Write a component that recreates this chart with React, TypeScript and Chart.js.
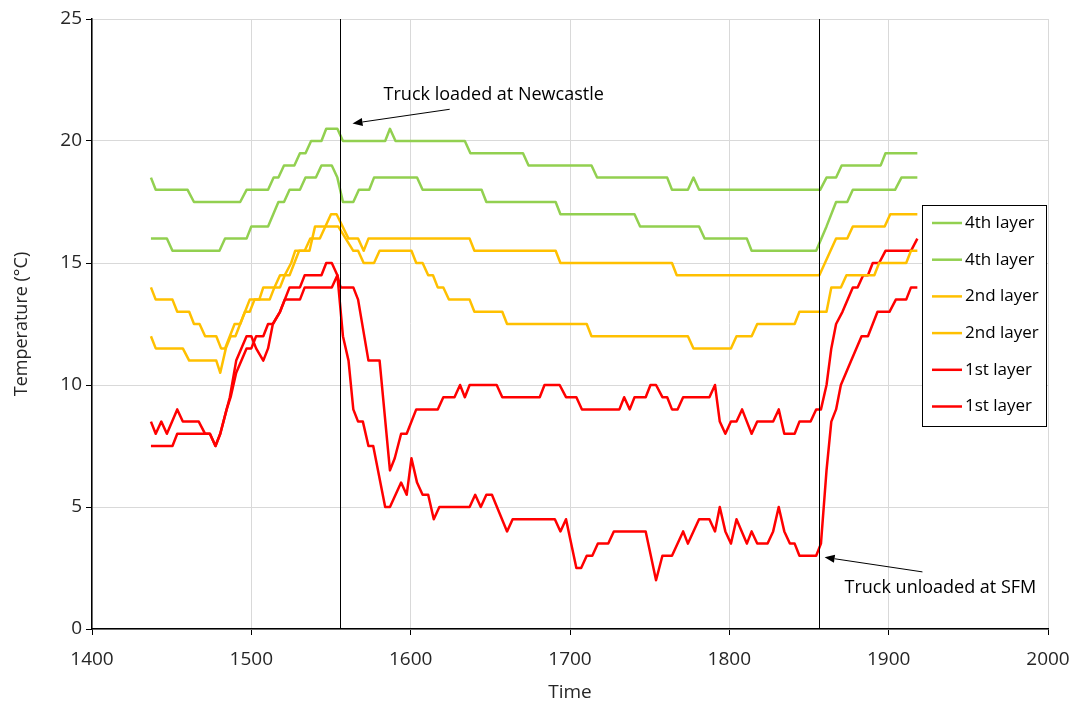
import React, { useEffect, useRef } from 'react';
import { Chart, registerables } from 'chart.js';

Chart.register(...registerables);

// ---------- data ----------
const xTickValues = [1400, 1500, 1600, 1700, 1800, 1900, 2000];
const yTickValues = [0, 5, 10, 15, 20, 25];

const seriesLabels = ['4th layer', '4th layer', '2nd layer', '2nd layer', '1st layer', '1st layer'];
const seriesColors = ['#92D050', '#92D050', '#FFC000', '#FFC000', '#FF0000', '#FF0000'];

// [time, temperature] vertices
const green1: number[][] = [
  [1437, 18.5], [1440, 18], [1460, 18], [1464, 17.5], [1493, 17.5], [1497, 18], [1510.5, 18], [1514, 18.5],
  [1517, 18.5], [1520.5, 19], [1527, 19], [1530.5, 19.5], [1534, 19.5], [1537.5, 20], [1544, 20], [1547, 20.5],
  [1554, 20.5], [1557.5, 20], [1584, 20], [1587, 20.5], [1590.5, 20], [1634, 20], [1637.5, 19.5], [1670.5, 19.5],
  [1674, 19], [1713.5, 19], [1717, 18.5], [1761, 18.5], [1764, 18], [1774, 18], [1777.5, 18.5], [1781, 18],
  [1857, 18], [1861, 18.5], [1867, 18.5], [1870.5, 19], [1895, 19], [1898, 19.5], [1918, 19.5],
];

const green2: number[][] = [
  [1437, 16], [1447, 16], [1450.5, 15.5], [1480, 15.5], [1483.5, 16], [1497, 16], [1500, 16.5], [1510.5, 16.5],
  [1517, 17.5], [1520.5, 17.5], [1524, 18], [1530.5, 18], [1534, 18.5], [1540.5, 18.5], [1544, 19], [1550.5, 19],
  [1554, 18.5], [1557.5, 17.5], [1564, 17.5], [1567.5, 18], [1574, 18], [1577, 18.5], [1604, 18.5], [1607.5, 18],
  [1644.5, 18], [1647.5, 17.5], [1691, 17.5], [1694, 17], [1740.5, 17], [1744, 16.5], [1781, 16.5], [1784.5, 16],
  [1811, 16], [1814, 15.5], [1854.5, 15.5], [1861, 16.5], [1867, 17.5], [1874, 17.5], [1877.5, 18], [1904, 18],
  [1908, 18.5], [1918, 18.5],
];

const yellow1: number[][] = [
  [1437, 14], [1440, 13.5], [1450.5, 13.5], [1453.5, 13], [1461, 13], [1464, 12.5], [1467.5, 12.5], [1471, 12],
  [1478, 12], [1481, 11.5], [1483.5, 11.5], [1489.5, 12.5], [1493, 12.5], [1499, 13.5], [1505, 13.5], [1507.5, 14],
  [1514.5, 14], [1518, 14.5], [1521, 14.5], [1525, 15], [1527.5, 15.5], [1533.5, 15.5], [1537, 16], [1543, 16],
  [1550, 17], [1553.5, 17], [1561, 16], [1567, 16], [1570.5, 15.5], [1573.5, 16], [1637, 16], [1640, 15.5],
  [1691, 15.5], [1694, 15], [1764, 15], [1767, 14.5], [1856.5, 14.5], [1867, 16], [1874, 16], [1877.5, 16.5],
  [1897.5, 16.5], [1901, 17], [1918, 17],
];

const yellow2: number[][] = [
  [1437, 12], [1440, 11.5], [1457, 11.5], [1461, 11], [1478, 11], [1480.5, 10.5], [1484, 11.5], [1487, 12],
  [1490, 12], [1493, 12.5], [1496, 13], [1499, 13], [1502, 13.5], [1511.5, 13.5], [1514.5, 14], [1518, 14],
  [1521, 14.5], [1524, 14.5], [1527, 15], [1530, 15.5], [1536.5, 15.5], [1540, 16.5], [1554.5, 16.5], [1564, 15.5],
  [1567, 15.5], [1570.5, 15], [1577, 15], [1580.5, 15.5], [1600.5, 15.5], [1603.5, 15], [1607.5, 15], [1611, 14.5],
  [1614, 14.5], [1617, 14], [1620.5, 14], [1624, 13.5], [1637, 13.5], [1640, 13], [1657.5, 13], [1660.5, 12.5],
  [1710.5, 12.5], [1713.5, 12], [1774, 12], [1777.5, 11.5], [1801, 11.5], [1804.5, 12], [1814, 12], [1817.5, 12.5],
  [1841, 12.5], [1844, 13], [1861, 13], [1864, 14], [1870, 14], [1873.5, 14.5], [1891, 14.5], [1894, 15],
  [1911, 15], [1914, 15.5], [1918, 15.5],
];

const red1: number[][] = [
  [1437, 8.5], [1440, 8], [1443.5, 8.5], [1447, 8], [1453.5, 9], [1457, 8.5], [1467, 8.5], [1471, 8], [1474, 8],
  [1477.5, 7.5], [1480.5, 8], [1484.5, 9], [1486.5, 9.5], [1490.5, 11], [1497, 12], [1500, 12], [1503, 11.5],
  [1507.5, 11], [1510.5, 11.5], [1513.5, 12.5], [1518, 13], [1524, 14], [1530.5, 14], [1533.5, 14.5], [1544, 14.5],
  [1547, 15], [1550.5, 15], [1554, 14.5], [1556, 14], [1564, 14], [1567, 13.5], [1573.5, 11], [1580.5, 11],
  [1587, 6.5], [1590, 7], [1594, 8], [1597.5, 8], [1603.5, 9], [1617, 9], [1620.5, 9.5], [1627.5, 9.5], [1631, 10],
  [1634, 9.5], [1637, 10], [1654, 10], [1657.5, 9.5], [1681, 9.5], [1684, 10], [1693.5, 10], [1697.5, 9.5],
  [1704, 9.5], [1707.5, 9], [1731, 9], [1734, 9.5], [1737.5, 9], [1740.5, 9.5], [1747.5, 9.5], [1750.5, 10],
  [1754, 10], [1758, 9.5], [1761, 9.5], [1764, 9], [1767.5, 9], [1771, 9.5], [1787.5, 9.5], [1791, 10], [1794, 8.5],
  [1797.5, 8], [1801, 8.5], [1804.5, 8.5], [1808, 9], [1811, 8.5], [1814, 8], [1817.5, 8.5], [1827.5, 8.5],
  [1831, 9], [1834.5, 8], [1841, 8], [1844, 8.5], [1851, 8.5], [1854.5, 9], [1857.5, 9], [1861, 10], [1864, 11.5],
  [1867, 12.5], [1871, 13], [1877.5, 14], [1880.5, 14], [1884, 14.5], [1887, 14.5], [1890, 15], [1894, 15],
  [1898, 15.5], [1914, 15.5], [1918, 16],
];

const red2: number[][] = [
  [1437, 7.5], [1450.5, 7.5], [1453.5, 8], [1474, 8], [1477.5, 7.5], [1480.5, 8], [1484.5, 9], [1487, 9.5],
  [1490.5, 10.5], [1497, 11.5], [1500, 11.5], [1503, 12], [1507.5, 12], [1510.5, 12.5], [1513.5, 12.5], [1518, 13],
  [1521, 13.5], [1530.5, 13.5], [1533.5, 14], [1550.5, 14], [1554, 14.5], [1557.5, 12], [1561, 11], [1564, 9],
  [1567, 8.5], [1570, 8.5], [1573.5, 7.5], [1576.5, 7.5], [1584, 5], [1587, 5], [1594, 6], [1597.5, 5.5],
  [1600.5, 7], [1604, 6], [1607.5, 5.5], [1611, 5.5], [1614.5, 4.5], [1618, 5], [1637, 5], [1640.5, 5.5],
  [1644, 5], [1647.5, 5.5], [1651, 5.5], [1660.5, 4], [1664, 4.5], [1690.5, 4.5], [1694, 4], [1697.5, 4.5],
  [1704, 2.5], [1707, 2.5], [1710.5, 3], [1714, 3], [1717.5, 3.5], [1724, 3.5], [1727.5, 4], [1747.5, 4],
  [1754, 2], [1758, 3], [1764, 3], [1771, 4], [1774, 3.5], [1781, 4.5], [1787.5, 4.5], [1791, 4], [1794, 5],
  [1797.5, 4], [1801, 3.5], [1804.5, 4.5], [1811, 3.5], [1814, 4], [1817.5, 3.5], [1824, 3.5], [1827.5, 4],
  [1831, 5], [1834.5, 4], [1838, 3.5], [1841, 3.5], [1844, 3], [1854.5, 3], [1857.5, 3.5], [1861, 6.5],
  [1864, 8.5], [1867, 9], [1870, 10], [1876.5, 11], [1883, 12], [1887, 12], [1893, 13], [1900.5, 13],
  [1904.5, 13.5], [1911, 13.5], [1914, 14], [1918, 14],
];

const seriesPoints = [green1, green2, yellow1, yellow2, red1, red2];

// event markers (time) and annotations (data coordinates)
const eventTimes = [1555.5, 1856.5];
const annotationTexts = ['Truck loaded at Newcastle', 'Truck unloaded at SFM'];
const annotationTextAt = [[1583, 21.9], [1872.3, 1.7]];
const arrowFrom = [[1624.5, 21.3], [1921.2, 2.34]];
const arrowTo = [[1563.5, 20.72], [1859.8, 2.94]];

const FONT = "'Open Sans', 'Liberation Sans', sans-serif";
const TEXT_COLOR = '#262626';

function drawArrow(ctx: CanvasRenderingContext2D, x1: number, y1: number, x2: number, y2: number) {
  const ang = Math.atan2(y2 - y1, x2 - x1);
  const len = 10;
  const half = 4;
  const bx = x2 - Math.cos(ang) * len;
  const by = y2 - Math.sin(ang) * len;
  ctx.beginPath();
  ctx.moveTo(x1, y1);
  ctx.lineTo(bx, by);
  ctx.stroke();
  ctx.beginPath();
  ctx.moveTo(x2, y2);
  ctx.lineTo(bx + Math.sin(ang) * half, by - Math.cos(ang) * half);
  ctx.lineTo(bx - Math.sin(ang) * half, by + Math.cos(ang) * half);
  ctx.closePath();
  ctx.fill();
}

const annotationPlugin = {
  id: 'annotations',
  afterDatasetsDraw(chart: any) {
    const { ctx } = chart;
    const xs = chart.scales.x;
    const ys = chart.scales.y;
    ctx.save();
    ctx.strokeStyle = '#000';
    ctx.fillStyle = '#000';
    ctx.lineWidth = 1;
    eventTimes.forEach((t) => {
      const px = Math.round(xs.getPixelForValue(t)) + 0.5;
      ctx.beginPath();
      ctx.moveTo(px, ys.getPixelForValue(25));
      ctx.lineTo(px, ys.getPixelForValue(0));
      ctx.stroke();
    });
    arrowFrom.forEach((f, i) => {
      const t = arrowTo[i];
      drawArrow(ctx, xs.getPixelForValue(f[0]), ys.getPixelForValue(f[1]), xs.getPixelForValue(t[0]), ys.getPixelForValue(t[1]));
    });
    ctx.font = `18px ${FONT}`;
    ctx.textAlign = 'left';
    ctx.textBaseline = 'middle';
    ctx.fillStyle = '#000';
    annotationTexts.forEach((txt, i) => {
      const a = annotationTextAt[i];
      ctx.fillText(txt, xs.getPixelForValue(a[0]), ys.getPixelForValue(a[1]));
    });
    ctx.restore();
  },
  afterDraw(chart: any) {
    const { ctx } = chart;
    const boxLeft = 922.5;
    const boxTop = 205.5;
    const boxW = 124;
    const boxH = 221;
    ctx.save();
    ctx.fillStyle = '#fff';
    ctx.fillRect(boxLeft, boxTop, boxW, boxH);
    ctx.strokeStyle = '#000';
    ctx.lineWidth = 1;
    ctx.strokeRect(boxLeft, boxTop, boxW, boxH);
    ctx.font = `17px ${FONT}`;
    ctx.textBaseline = 'middle';
    ctx.textAlign = 'left';
    seriesLabels.forEach((lab, i) => {
      const y = 223 + i * 36.7;
      ctx.strokeStyle = seriesColors[i];
      ctx.lineWidth = 2.5;
      ctx.beginPath();
      ctx.moveTo(932, y);
      ctx.lineTo(962, y);
      ctx.stroke();
      ctx.fillStyle = '#000';
      ctx.fillText(lab, 965, y);
    });
    ctx.restore();
  },
};

export default function App() {
  const canvasRef = useRef<HTMLCanvasElement | null>(null);

  useEffect(() => {
    if (!canvasRef.current) return;
    const datasets = seriesPoints.map((pts, i) => ({
      label: seriesLabels[i],
      data: pts.map((p) => ({ x: p[0], y: p[1] })),
      borderColor: seriesColors[i],
      backgroundColor: seriesColors[i],
      borderWidth: 2.5,
      pointRadius: 0,
      tension: 0,
      fill: false,
      borderJoinStyle: 'round' as const,
    }));

    const chart = new Chart(canvasRef.current, {
      type: 'line',
      data: { datasets },
      options: {
        responsive: false,
        animation: false,
        parsing: false,
        layout: { padding: { top: 19, right: 28, left: 0, bottom: 0 } },
        plugins: {
          legend: { display: false },
          tooltip: { enabled: false },
        },
        scales: {
          x: {
            type: 'linear',
            min: 1400,
            max: 2000,
            afterBuildTicks: (s: any) => {
              s.ticks = xTickValues.map((v) => ({ value: v }));
            },
            afterFit: (s: any) => {
              s.height = 75;
              s.paddingLeft = 0;
              s.paddingRight = 0;
            },
            ticks: {
              callback: (v: any) => String(v),
              font: { family: FONT, size: 19 },
              color: TEXT_COLOR,
              padding: 13,
              maxRotation: 0,
            },
            grid: { color: '#D9D9D9', lineWidth: 1, tickLength: 6, tickColor: '#000' },
            border: { color: '#000', width: 1.5 },
            title: {
              display: true,
              text: 'Time',
              font: { family: FONT, size: 19 },
              color: TEXT_COLOR,
              padding: { top: 0, bottom: 0 },
            },
          },
          y: {
            min: 0,
            max: 25,
            afterBuildTicks: (s: any) => {
              s.ticks = yTickValues.map((v) => ({ value: v }));
            },
            afterFit: (s: any) => {
              s.width = 92;
              s.paddingTop = 0;
              s.paddingBottom = 0;
            },
            ticks: {
              callback: (v: any) => String(v),
              font: { family: FONT, size: 19 },
              color: TEXT_COLOR,
              padding: 4,
            },
            grid: { color: '#D9D9D9', lineWidth: 1, tickLength: 6, tickColor: '#000' },
            border: { color: '#000', width: 1.5 },
            title: {
              display: true,
              text: 'Temperature (°C)',
              font: { family: FONT, size: 18 },
              color: TEXT_COLOR,
              padding: { top: 11, bottom: 0 },
            },
          },
        },
      },
      plugins: [annotationPlugin],
    });
    return () => chart.destroy();
  }, []);

  return (
    <div style={{ position: 'fixed', left: 0, top: 0, width: 1076, height: 704, background: '#fff' }}>
      <canvas ref={canvasRef} width={1076} height={704} />
    </div>
  );
}
